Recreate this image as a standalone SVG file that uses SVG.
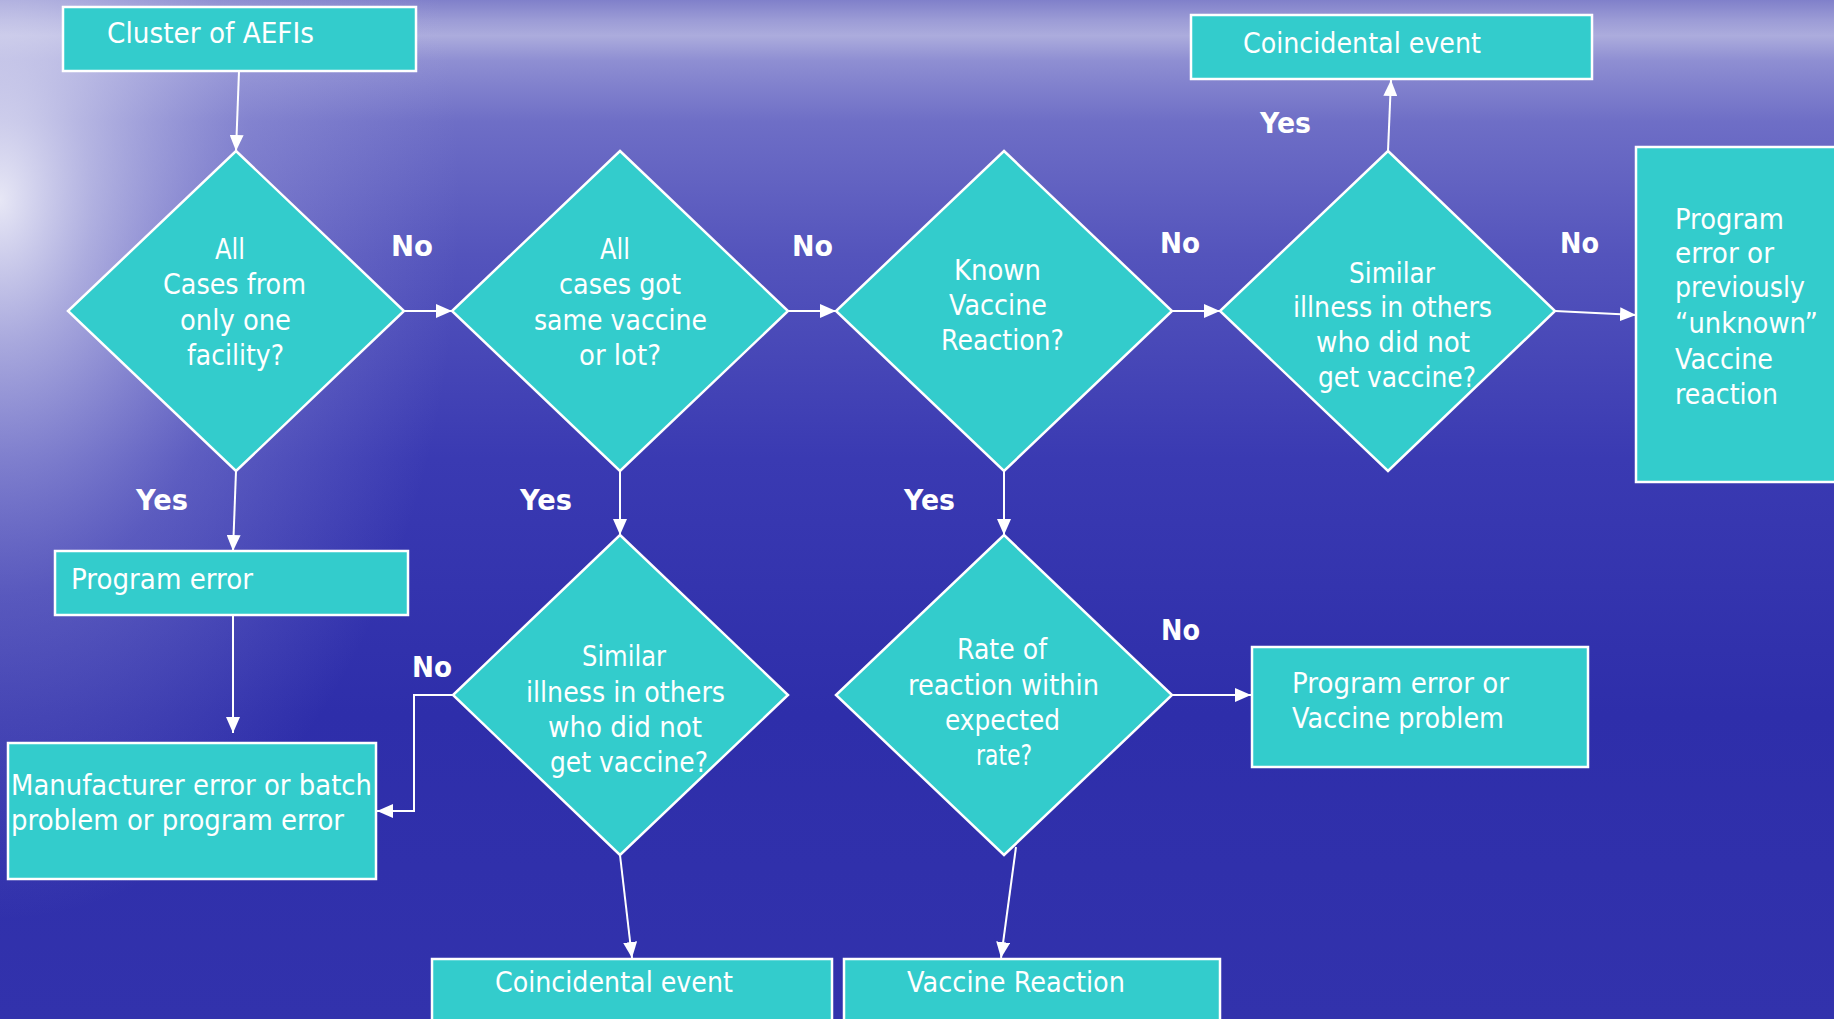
<svg xmlns="http://www.w3.org/2000/svg" width="1834" height="1019" viewBox="0 0 1834 1019">
<defs>
<linearGradient id="bgv" x1="0" y1="0" x2="0" y2="1">
<stop offset="0" stop-color="#8080ca"/>
<stop offset="0.02" stop-color="#9c9cd6"/>
<stop offset="0.035" stop-color="#acacdd"/>
<stop offset="0.06" stop-color="#8e8ed2"/>
<stop offset="0.12" stop-color="#6e6ec6"/>
<stop offset="0.25" stop-color="#5454bc"/>
<stop offset="0.45" stop-color="#3a3ab2"/>
<stop offset="0.7" stop-color="#2e2eaa"/>
<stop offset="1" stop-color="#3232ac"/>
</linearGradient>
<radialGradient id="glow" cx="0" cy="0" r="1" gradientUnits="userSpaceOnUse" gradientTransform="translate(0 200) scale(460 720)">
<stop offset="0" stop-color="#ffffff" stop-opacity="0.85"/>
<stop offset="0.2" stop-color="#e8e8f6" stop-opacity="0.6"/>
<stop offset="0.55" stop-color="#b8b8e6" stop-opacity="0.28"/>
<stop offset="1" stop-color="#b0b0e4" stop-opacity="0"/>
</radialGradient>
<marker id="ah" viewBox="0 0 16 14" refX="16" refY="7" markerWidth="16" markerHeight="14" markerUnits="userSpaceOnUse" orient="auto">
<path d="M0,0 L16,7 L0,14 z" fill="#ffffff"/>
</marker>
<style>
.box{fill:#33cccc;stroke:#ffffff;stroke-width:2.5}
.t{font-family:"DejaVu Sans","Liberation Sans",sans-serif;font-size:28px;fill:#ffffff}
.lb{font-family:"DejaVu Sans","Liberation Sans",sans-serif;font-size:28px;font-weight:bold;fill:#ffffff}
.c{fill:none;stroke:#ffffff;stroke-width:2;marker-end:url(#ah)}
</style>
</defs>
<rect x="0" y="0" width="1834" height="1019" fill="url(#bgv)"/>
<rect x="0" y="0" width="1834" height="1019" fill="url(#glow)"/>

<g id="connectors">
<path class="c" d="M239,71 L236,151"/>
<path class="c" d="M404,311 L452,311"/>
<path class="c" d="M788,311 L836,311"/>
<path class="c" d="M1172,311 L1220,311"/>
<path class="c" d="M1388,151 L1391,80"/>
<path class="c" d="M1555,311 L1636,315"/>
<path class="c" d="M236,471 L233,551"/>
<path class="c" d="M233,615 L233,733"/>
<path class="c" d="M620,471 L620,535"/>
<path class="c" d="M1004,471 L1004,535"/>
<path class="c" d="M453,695 L414,695 L414,811 L377,811"/>
<path class="c" d="M620,855 L632,958"/>
<path class="c" d="M1016,847 L1001,958"/>
<path class="c" d="M1172,695 L1251,695"/>
</g>

<g id="labels">
<text class="lb" x="391" y="256" textLength="42" lengthAdjust="spacingAndGlyphs">No</text>
<text class="lb" x="792" y="256" textLength="41" lengthAdjust="spacingAndGlyphs">No</text>
<text class="lb" x="1160" y="253" textLength="40" lengthAdjust="spacingAndGlyphs">No</text>
<text class="lb" x="1560" y="253" textLength="39" lengthAdjust="spacingAndGlyphs">No</text>
<text class="lb" x="412" y="677" textLength="40" lengthAdjust="spacingAndGlyphs">No</text>
<text class="lb" x="1161" y="640" textLength="39" lengthAdjust="spacingAndGlyphs">No</text>
<text class="lb" x="136" y="510" textLength="52" lengthAdjust="spacingAndGlyphs">Yes</text>
<text class="lb" x="520" y="510" textLength="52" lengthAdjust="spacingAndGlyphs">Yes</text>
<text class="lb" x="904" y="510" textLength="51" lengthAdjust="spacingAndGlyphs">Yes</text>
<text class="lb" x="1260" y="133" textLength="51" lengthAdjust="spacingAndGlyphs">Yes</text>
</g>

<g id="cluster">
<rect class="box" x="63" y="7" width="353" height="64"/>
<text class="t" x="107" y="43" textLength="207" lengthAdjust="spacingAndGlyphs">Cluster of AEFIs</text>
</g>

<g id="d1">
<polygon class="box" points="236,151 404,311 236,471 68,311"/>
<text class="t" x="215" y="259" textLength="30" lengthAdjust="spacingAndGlyphs">All</text>
<text class="t" x="163" y="294" textLength="143" lengthAdjust="spacingAndGlyphs">Cases from</text>
<text class="t" x="180" y="330" textLength="111" lengthAdjust="spacingAndGlyphs">only one</text>
<text class="t" x="187" y="365" textLength="97" lengthAdjust="spacingAndGlyphs">facility?</text>
</g>

<g id="d2">
<polygon class="box" points="620,151 788,311 620,471 452,311"/>
<text class="t" x="600" y="259" textLength="30" lengthAdjust="spacingAndGlyphs">All</text>
<text class="t" x="559" y="294" textLength="122" lengthAdjust="spacingAndGlyphs">cases got</text>
<text class="t" x="534" y="330" textLength="173" lengthAdjust="spacingAndGlyphs">same vaccine</text>
<text class="t" x="579" y="365" textLength="82" lengthAdjust="spacingAndGlyphs">or lot?</text>
</g>

<g id="d3">
<polygon class="box" points="1004,151 1172,311 1004,471 836,311"/>
<text class="t" x="954" y="280" textLength="87" lengthAdjust="spacingAndGlyphs">Known</text>
<text class="t" x="949" y="315" textLength="98" lengthAdjust="spacingAndGlyphs">Vaccine</text>
<text class="t" x="941" y="350" textLength="123" lengthAdjust="spacingAndGlyphs">Reaction?</text>
</g>

<g id="d4">
<polygon class="box" points="1388,151 1555,311 1388,471 1220,311"/>
<text class="t" x="1349" y="283" textLength="86" lengthAdjust="spacingAndGlyphs">Similar</text>
<text class="t" x="1293" y="317" textLength="199" lengthAdjust="spacingAndGlyphs">illness in others</text>
<text class="t" x="1316" y="352" textLength="154" lengthAdjust="spacingAndGlyphs">who did not</text>
<text class="t" x="1318" y="387" textLength="158" lengthAdjust="spacingAndGlyphs">get vaccine?</text>
</g>

<g id="coincidental-top">
<rect class="box" x="1191" y="15" width="401" height="64"/>
<text class="t" x="1243" y="53" textLength="238" lengthAdjust="spacingAndGlyphs">Coincidental event</text>
</g>

<g id="unknown-reaction">
<rect class="box" x="1636" y="147" width="210" height="335"/>
<text class="t" x="1675" y="229" textLength="109" lengthAdjust="spacingAndGlyphs">Program</text>
<text class="t" x="1675" y="263" textLength="99" lengthAdjust="spacingAndGlyphs">error or</text>
<text class="t" x="1675" y="297" textLength="130" lengthAdjust="spacingAndGlyphs">previously</text>
<text class="t" x="1675" y="333" textLength="143" lengthAdjust="spacingAndGlyphs">“unknown”</text>
<text class="t" x="1675" y="369" textLength="98" lengthAdjust="spacingAndGlyphs">Vaccine</text>
<text class="t" x="1675" y="404" textLength="103" lengthAdjust="spacingAndGlyphs">reaction</text>
</g>

<g id="program-error">
<rect class="box" x="55" y="551" width="353" height="64"/>
<text class="t" x="71" y="589" textLength="182" lengthAdjust="spacingAndGlyphs">Program error</text>
</g>

<g id="manufacturer">
<rect class="box" x="8" y="743" width="368" height="136"/>
<text class="t" x="11" y="795" textLength="361" lengthAdjust="spacingAndGlyphs">Manufacturer error or batch</text>
<text class="t" x="11" y="830" textLength="333" lengthAdjust="spacingAndGlyphs">problem or program error</text>
</g>

<g id="d5">
<polygon class="box" points="620,535 788,695 620,855 453,695"/>
<text class="t" x="582" y="666" textLength="84" lengthAdjust="spacingAndGlyphs">Similar</text>
<text class="t" x="526" y="702" textLength="199" lengthAdjust="spacingAndGlyphs">illness in others</text>
<text class="t" x="548" y="737" textLength="154" lengthAdjust="spacingAndGlyphs">who did not</text>
<text class="t" x="550" y="772" textLength="158" lengthAdjust="spacingAndGlyphs">get vaccine?</text>
</g>

<g id="d6">
<polygon class="box" points="1004,535 1172,695 1004,855 836,695"/>
<text class="t" x="957" y="659" textLength="90" lengthAdjust="spacingAndGlyphs">Rate of</text>
<text class="t" x="908" y="695" textLength="191" lengthAdjust="spacingAndGlyphs">reaction within</text>
<text class="t" x="945" y="730" textLength="115" lengthAdjust="spacingAndGlyphs">expected</text>
<text class="t" x="976" y="765" textLength="56" lengthAdjust="spacingAndGlyphs">rate?</text>
</g>

<g id="program-vaccine-problem">
<rect class="box" x="1252" y="647" width="336" height="120"/>
<text class="t" x="1292" y="693" textLength="217" lengthAdjust="spacingAndGlyphs">Program error or</text>
<text class="t" x="1292" y="728" textLength="212" lengthAdjust="spacingAndGlyphs">Vaccine problem</text>
</g>

<g id="coincidental-bottom">
<rect class="box" x="432" y="959" width="400" height="70"/>
<text class="t" x="495" y="992" textLength="238" lengthAdjust="spacingAndGlyphs">Coincidental event</text>
</g>

<g id="vaccine-reaction">
<rect class="box" x="844" y="959" width="376" height="70"/>
<text class="t" x="907" y="992" textLength="218" lengthAdjust="spacingAndGlyphs">Vaccine Reaction</text>
</g>
</svg>
